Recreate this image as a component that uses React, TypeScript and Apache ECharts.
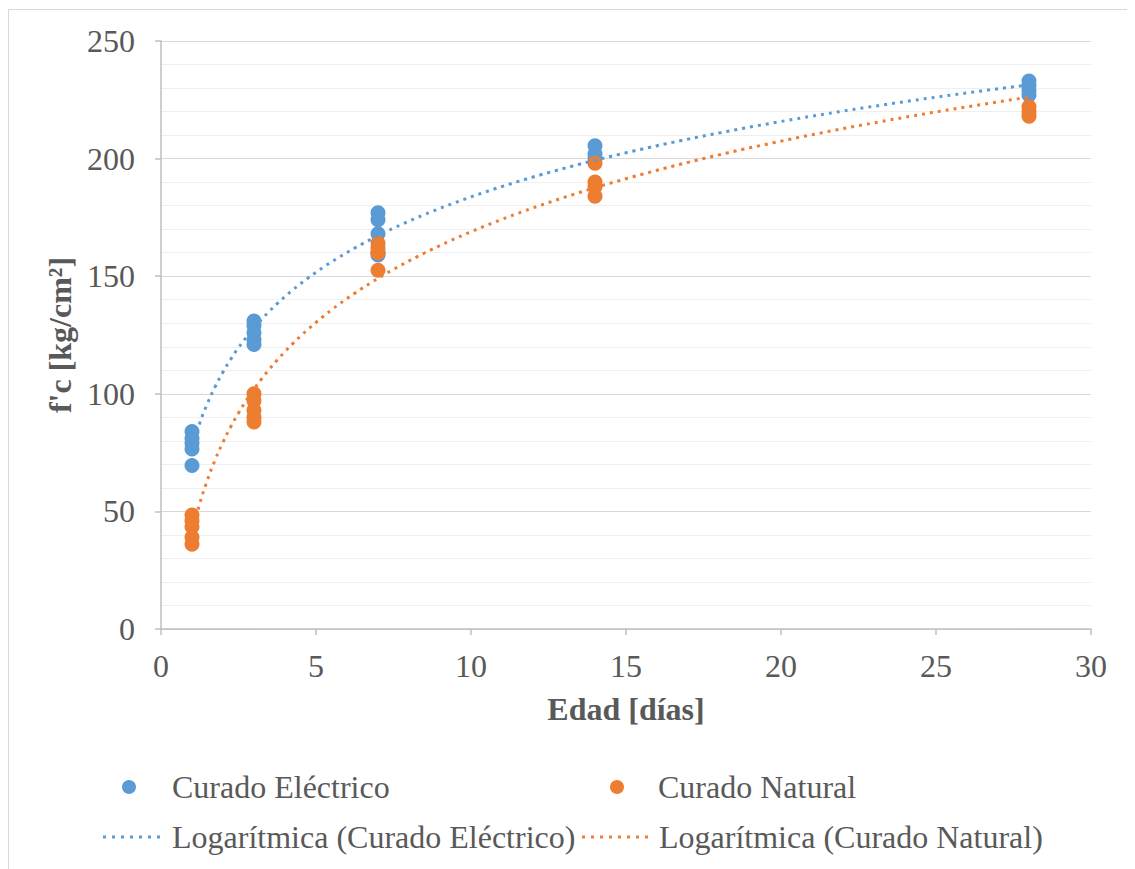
import React, { useEffect, useRef } from "react";
import * as echarts from "echarts";

const electricDays = [1, 1, 1, 1, 1, 3, 3, 3, 3, 3, 7, 7, 7, 7, 7, 14, 14, 14, 28, 28, 28, 28];
const electricValues = [84, 81, 79, 76.5, 69.5, 131, 129, 126, 123, 121, 177, 174, 168, 160, 159, 205.5, 202, 200, 233, 231, 229, 227];
const naturalDays = [1, 1, 1, 1, 1, 3, 3, 3, 3, 3, 7, 7, 7, 7, 14, 14, 14, 14, 28, 28, 28];
const naturalValues = [48.5, 46, 43.5, 39, 36, 100, 97, 93, 90, 88, 164, 162, 160, 152.5, 198, 190, 188, 184, 222, 220, 218];

const seriesNames = ["Curado Eléctrico", "Curado Natural"];
const trendNames = ["Logarítmica (Curado Eléctrico)", "Logarítmica (Curado Natural)"];
const colors = ["#5B9BD5", "#ED7D31"];

// least-squares fit y = a ln(x) + b (as a spreadsheet trendline does)
function logFit(xs: number[], ys: number[]) {
  const n = xs.length;
  const lx = xs.map((x) => Math.log(x));
  const mx = lx.reduce((s, v) => s + v, 0) / n;
  const my = ys.reduce((s, v) => s + v, 0) / n;
  let num = 0, den = 0;
  for (let i = 0; i < n; i++) {
    num += (lx[i] - mx) * (ys[i] - my);
    den += (lx[i] - mx) * (lx[i] - mx);
  }
  const a = num / den;
  const b = my - a * mx;
  const pts: number[][] = [];
  for (let x = 1; x <= 28.0001; x += 0.25) pts.push([x, a * Math.log(x) + b]);
  return pts;
}

function dottedIcon(count: number) {
  let d = "path://";
  for (let i = 0; i < count; i++) d += `M${i * 9},0h3v3h-3z`;
  return d;
}

export default function App() {
  const ref = useRef<HTMLDivElement>(null);
  useEffect(() => {
    const chart = echarts.init(ref.current!, null, { renderer: "svg" });
    const font = "Liberation Serif";
    const txt = { fontFamily: font, fontSize: 32, color: "#595959" };
    const legendBase = {
      orient: "horizontal",
      padding: 0,
      itemGap: 0,
      selectedMode: false,
    };
    chart.setOption({
      animation: false,
      backgroundColor: "#ffffff",
      grid: { left: 152, right: 43, top: 31, bottom: 240 },
      xAxis: {
        type: "value",
        min: 0,
        max: 30,
        interval: 5,
        name: "Edad [días]",
        nameLocation: "middle",
        nameGap: 64,
        nameTextStyle: { fontFamily: font, fontSize: 32, color: "#595959", fontWeight: "bold" },
        axisLine: { lineStyle: { color: "#BFBFBF", width: 1.5 } },
        axisTick: { show: true, length: 6, lineStyle: { color: "#BFBFBF", width: 1.5 } },
        axisLabel: { fontFamily: font, fontSize: 32, color: "#595959", margin: 21 },
        splitLine: { show: false },
      },
      yAxis: {
        type: "value",
        min: 0,
        max: 250,
        interval: 50,
        name: "f'c [kg/cm²]",
        nameLocation: "middle",
        nameGap: 84,
        nameTextStyle: { fontFamily: font, fontSize: 32, color: "#595959", fontWeight: "bold" },
        axisLine: { show: true, lineStyle: { color: "#BFBFBF", width: 1.5 } },
        axisTick: { show: true, length: 6, lineStyle: { color: "#BFBFBF", width: 1.5 } },
        axisLabel: { fontFamily: font, fontSize: 32, color: "#595959", margin: 26 },
        splitLine: { show: true, lineStyle: { color: "#D9D9D9", width: 1.2 } },
        minorTick: { show: false, splitNumber: 5 },
        minorSplitLine: { show: true, lineStyle: { color: "#EFEFEF", width: 1 } },
      },
      legend: [
        { ...legendBase, data: [{ name: seriesNames[0], icon: "circle" }], left: 113, top: 761, itemWidth: 14, itemHeight: 14, textStyle: { ...txt, lineHeight: 32, padding: [0, 0, 0, 31] } },
        { ...legendBase, data: [{ name: seriesNames[1], icon: "circle" }], left: 601, top: 761, itemWidth: 14, itemHeight: 14, textStyle: { ...txt, lineHeight: 32, padding: [0, 0, 0, 29] } },
        { ...legendBase, data: [{ name: trendNames[0], icon: dottedIcon(7) }], left: 94, top: 811, itemWidth: 57, itemHeight: 3, textStyle: { ...txt, lineHeight: 32, padding: [0, 0, 0, 7] } },
        { ...legendBase, data: [{ name: trendNames[1], icon: dottedIcon(8) }], left: 573, top: 811, itemWidth: 66, itemHeight: 3, textStyle: { ...txt, lineHeight: 32, padding: [0, 0, 0, 6] } },
      ],
      series: [
        {
          name: trendNames[0],
          type: "line",
          data: logFit(electricDays, electricValues),
          showSymbol: false,
          symbol: "none",
          smooth: true,
          lineStyle: { color: colors[0], width: 3, type: [3, 5] },
          itemStyle: { color: colors[0] },
          z: 3,
        },
        {
          name: trendNames[1],
          type: "line",
          data: logFit(naturalDays, naturalValues),
          showSymbol: false,
          symbol: "none",
          smooth: true,
          lineStyle: { color: colors[1], width: 3, type: [3, 5] },
          itemStyle: { color: colors[1] },
          z: 3,
        },
        {
          name: seriesNames[0],
          type: "scatter",
          data: electricDays.map((d, i) => [d, electricValues[i]]),
          symbolSize: 15,
          itemStyle: { color: colors[0], opacity: 1 },
          z: 2,
        },
        {
          name: seriesNames[1],
          type: "scatter",
          data: naturalDays.map((d, i) => [d, naturalValues[i]]),
          symbolSize: 15,
          itemStyle: { color: colors[1], opacity: 1 },
          z: 2,
        },
      ],
    });
    return () => chart.dispose();
  }, []);
  return (
    <div
      ref={ref}
      style={{
        width: 1127,
        height: 861,
        border: "1px solid #D9D9D9",
        boxSizing: "border-box",
        marginTop: 1,
      }}
    />
  );
}
